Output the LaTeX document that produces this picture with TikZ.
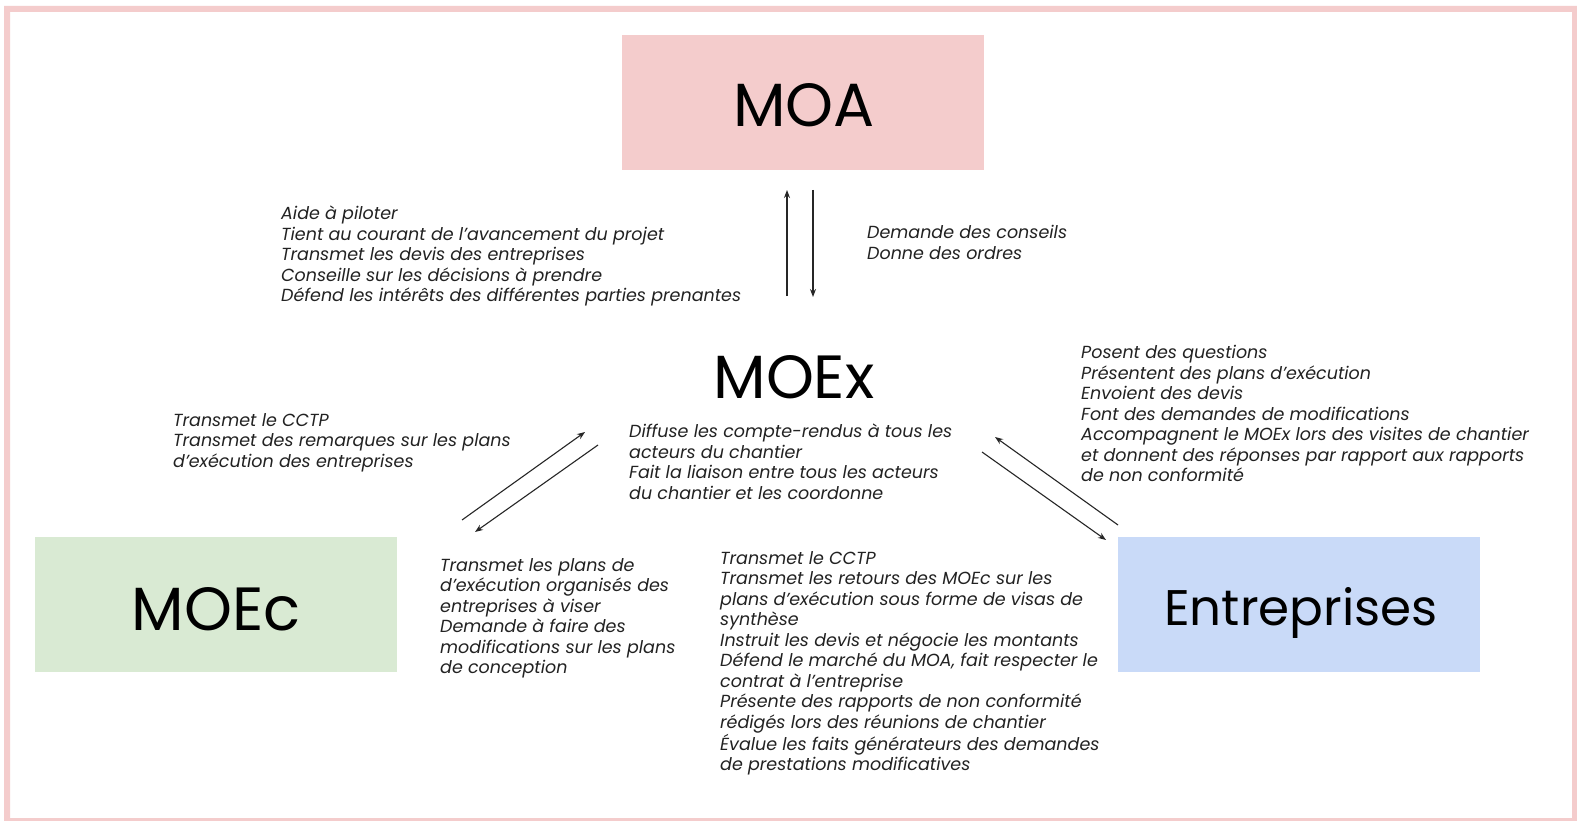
\documentclass[tikz,border=0pt]{standalone}
\usepackage{fontspec}
\setmainfont{Poppins}
\usetikzlibrary{arrows.meta}
\definecolor{pinkbox}{HTML}{F4CCCC}
\definecolor{greenbox}{HTML}{D9EAD3}
\definecolor{bluebox}{HTML}{C9DAF8}
\definecolor{txt}{HTML}{222222}
\tikzset{
  titlebox/.style={minimum width=362pt, minimum height=135pt, inner sep=0pt},
  titletext/.style={anchor=base, inner sep=0pt, text=black, font=\fontsize{61}{63}\selectfont},
  desc/.style={anchor=north west, inner sep=0pt, align=left, text=txt, font=\fontsize{17.5}{20.5}\selectfont\itshape},
  arr/.style={-{Stealth[length=8pt,width=6pt]}, line width=1.1pt, black!85}
}
\begin{document}
\begin{tikzpicture}[x=1pt,y=-1pt]
\useasboundingbox (0,0) rectangle (1577,821);
\fill[white] (0,0) rectangle (1577,821);
\fill[pinkbox, even odd rule] (4,6) rectangle (1577,821) (10,12) rectangle (1572,818);

\node[titlebox, fill=pinkbox] (moa) at (803,102.5) {};
\node[titlebox, fill=greenbox] (moec) at (216,604.5) {};
\node[titlebox, fill=bluebox] (ent) at (1299,604.5) {};
\node[titletext] (moat) at (804,127) {MOA};
\node[titletext] (moect) at (216,630) {MOEc};
\node[titletext, font=\fontsize{50}{52}\selectfont] (entt) at (1301,625) {Entreprises};
\node[titletext] (moex) at (794,398) {MOEx};

% connector endpoints
\coordinate (a1) at (787,296); \coordinate (a2) at (787,190);
\coordinate (b1) at (813,190); \coordinate (b2) at (813,297);
\coordinate (c1) at (462,520); \coordinate (c2) at (585,432);
\coordinate (d1) at (598,445); \coordinate (d2) at (475,532);
\coordinate (e1) at (1118,525); \coordinate (e2) at (995,437);
\coordinate (f1) at (982,452); \coordinate (f2) at (1106,540);
\draw[arr] (a1) -- (a2);
\draw[arr] (b1) -- (b2);
\draw[arr] (c1) -- (c2);
\draw[arr] (d1) -- (d2);
\draw[arr] (e1) -- (e2);
\draw[arr] (f1) -- (f2);

\node[desc] (ta) at (281,206) {Aide à piloter\\Tient au courant de l’avancement du projet\\Transmet les devis des entreprises\\Conseille sur les décisions à prendre\\Défend les intérêts des différentes parties prenantes};
\node[desc] (tb) at (867,225) {Demande des conseils\\Donne des ordres};
\node[desc] (tc) at (173,413) {Transmet le CCTP\\Transmet des remarques sur les plans\\d’exécution des entreprises};
\node[desc] (td) at (629,424) {Diffuse les compte-rendus à tous les\\acteurs du chantier\\Fait la liaison entre tous les acteurs\\du chantier et les coordonne};
\node[desc] (te) at (1081,345) {Posent des questions\\Présentent des plans d’exécution\\Envoient des devis\\Font des demandes de modifications\\Accompagnent le MOEx lors des visites de chantier\\et donnent des réponses par rapport aux rapports\\de non conformité};
\node[desc] (tf) at (440,558) {Transmet les plans de\\d’exécution organisés des\\entreprises à viser\\Demande à faire des\\modifications sur les plans\\de conception};
\node[desc] (tg) at (720,551) {Transmet le CCTP\\Transmet les retours des MOEc sur les\\plans d\char"27 exécution sous forme de visas de\\synthèse\\Instruit les devis et négocie les montants\\Défend le marché du MOA, fait respecter le\\contrat à l’entreprise\\Présente des rapports de non conformité\\rédigés lors des réunions de chantier\\Évalue les faits générateurs des demandes\\de prestations modificatives};
\end{tikzpicture}
\end{document}
